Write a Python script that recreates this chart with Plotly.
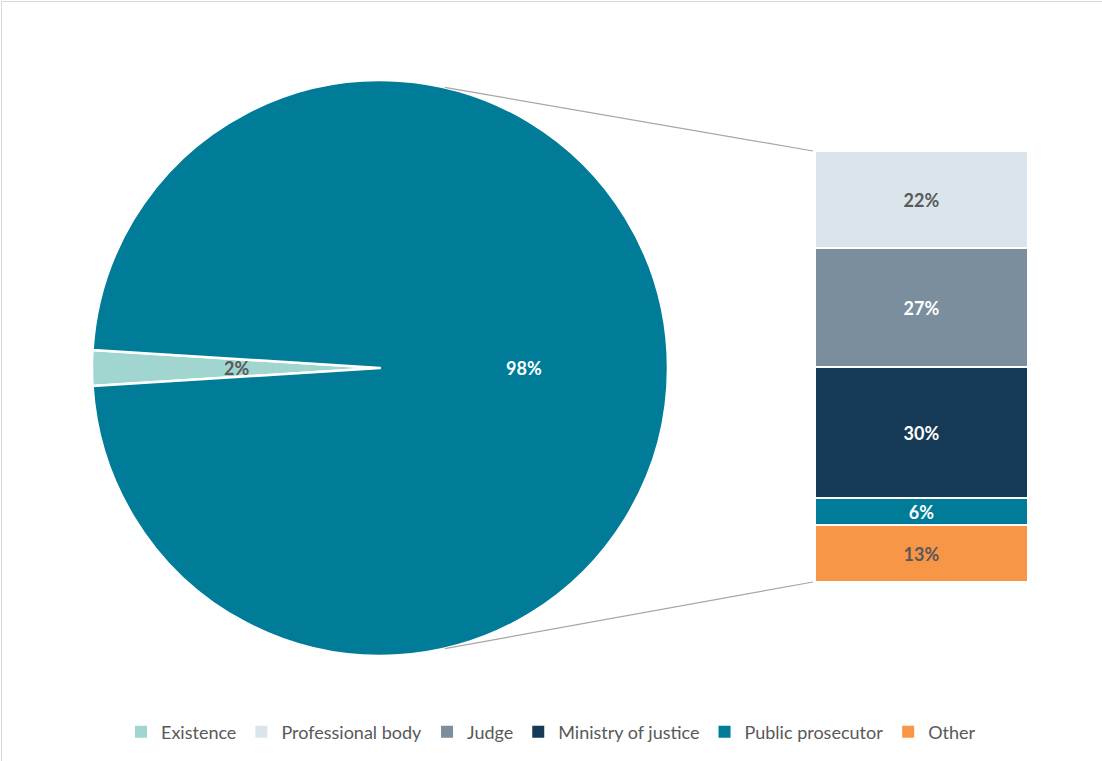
import math
import plotly.graph_objects as go

# ---- data ----
pie_labels = ["Existence", "Public prosecutor"]
pie_values = [2, 98]
pie_colors = ["#A0D5D0", "#007C99"]

bar_labels = ["Professional body", "Judge", "Ministry of justice", "Public prosecutor", "Other"]
bar_values = [22, 27, 30, 6, 13]
bar_colors = ["#D9E5EB", "#7A8E9E", "#163A56", "#007C99", "#F79646"]
bar_text_colors = ["#595959", "#FFFFFF", "#FFFFFF", "#FFFFFF", "#595959"]

legend_order = ["Existence", "Professional body", "Judge", "Ministry of justice", "Public prosecutor", "Other"]
legend_colors = ["#A0D5D0", "#D9E5EB", "#7A8E9E", "#163A56", "#007C99", "#F79646"]

W, H = 1102, 761
FONT = "Lato"

# layout geometry (pixels)
pie_cx, pie_cy, pie_r = 380, 368, 288
bar_x0, bar_x1 = 815, 1028
bar_top, bar_bot = 151, 582


def px(x):
    return x / W


def py(y):
    return 1 - y / H


fig = go.Figure()

# pie rotation so that first slice is centered at 9 o'clock
share0 = pie_values[0] / sum(pie_values)
rotation = 270 - 360 * share0 / 2

fig.add_trace(go.Pie(
    labels=pie_labels, values=pie_values, sort=False, direction="clockwise",
    rotation=rotation,
    marker=dict(colors=pie_colors, line=dict(color="white", width=2.5)),
    textinfo="none", showlegend=False, hoverinfo="label+percent",
    domain=dict(x=[px(pie_cx - pie_r), px(pie_cx + pie_r)],
                y=[py(pie_cy + pie_r), py(pie_cy - pie_r)]),
))

# pie labels placed at half radius on each slice bisector
total = sum(pie_values)
start = 90 - rotation  # math angle (deg, ccw from +x) of first slice start
ang = start
pie_text_colors = ["#595959", "#FFFFFF"]
for lab, v, tc in zip(pie_labels, pie_values, pie_text_colors):
    span = 360 * v / total
    mid = ang - span / 2
    ang -= span
    lx = pie_cx + 0.5 * pie_r * math.cos(math.radians(mid))
    ly = pie_cy - 0.5 * pie_r * math.sin(math.radians(mid))
    fig.add_annotation(x=px(lx), y=py(ly), xref="paper", yref="paper",
                       xanchor="center", yanchor="middle",
                       text=f"<b>{v}%</b>", showarrow=False,
                       font=dict(family=FONT, size=18, color=tc))

# stacked bar (bottom-up order)
for lab, v, c, tc in reversed(list(zip(bar_labels, bar_values, bar_colors, bar_text_colors))):
    fig.add_trace(go.Bar(
        x=[0], y=[v], name=lab, marker=dict(color=c, line=dict(color="white", width=2)),
        text=[f"<b>{v}%</b>"], textposition="inside", insidetextanchor="middle",
        textangle=0, constraintext="none",
        textfont=dict(family=FONT, size=18, color=tc),
        showlegend=False, hoverinfo="name+y",
    ))

# legend entries
for lab, c in zip(legend_order, legend_colors):
    fig.add_trace(go.Scatter(
        x=[None], y=[None], mode="markers", name=lab,
        marker=dict(symbol="square", size=9, color=c),
    ))

# connector lines from pie edge to bar corners
ang_c = math.radians(77)
tx = pie_cx + pie_r * math.cos(ang_c)
ty = pie_cy - pie_r * math.sin(ang_c)
bx = pie_cx + pie_r * math.cos(ang_c)
by = pie_cy + pie_r * math.sin(ang_c)
shapes = [
    dict(type="line", xref="paper", yref="paper", x0=px(tx), y0=py(ty), x1=px(bar_x0 - 2), y1=py(bar_top),
         line=dict(color="#A6A6A6", width=1.2)),
    dict(type="line", xref="paper", yref="paper", x0=px(bx), y0=py(by), x1=px(bar_x0 - 2), y1=py(bar_bot),
         line=dict(color="#A6A6A6", width=1.2)),
    dict(type="line", xref="paper", yref="paper", x0=px(1.5), y0=py(1.5), x1=1, y1=py(1.5),
         line=dict(color="#D9D9D9", width=1)),
    dict(type="line", xref="paper", yref="paper", x0=px(1.5), y0=py(1.5), x1=px(1.5), y1=0,
         line=dict(color="#D9D9D9", width=1)),
]

fig.update_layout(
    width=W, height=H, autosize=False,
    margin=dict(l=0, r=0, t=0, b=0),
    paper_bgcolor="white", plot_bgcolor="white",
    barmode="stack", bargap=0,
    xaxis=dict(domain=[px(bar_x0), px(bar_x1)], range=[-0.5, 0.5], visible=False, fixedrange=True),
    yaxis=dict(domain=[py(bar_bot), py(bar_top)], range=[0, sum(bar_values)], visible=False, fixedrange=True),
    shapes=shapes,
    legend=dict(orientation="h", x=0.5, xanchor="center", y=py(732), yanchor="middle",
                font=dict(family=FONT, size=18, color="#595959"),
                itemsizing="constant", traceorder="normal", itemclick=False),
    font=dict(family=FONT),
)

fig.write_html("out.html")
